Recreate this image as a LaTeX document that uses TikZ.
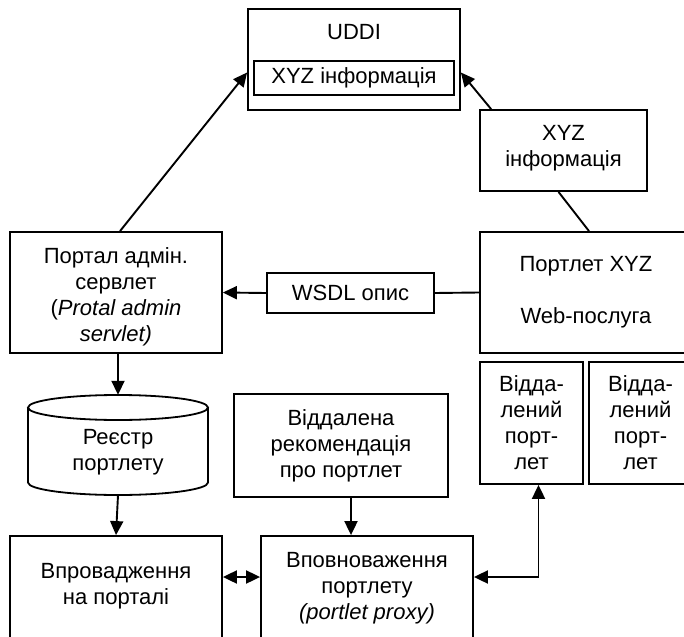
\documentclass[tikz,border=0pt]{standalone}
\usepackage{fontspec}
\setmainfont{Liberation Sans}
\usetikzlibrary{arrows.meta}
\begin{document}
\begin{tikzpicture}[x=1pt,y=-1pt,
  box/.style={draw, line width=1.8pt, align=center, inner sep=0pt, font=\fontsize{22}{26}\selectfont},
  txt/.style={align=center, inner sep=0pt, font=\fontsize{22}{26}\selectfont},
  conn/.style={line width=1.9pt},
  arr/.style={line width=1.9pt, -{Triangle[length=14pt,width=13pt]}},
  darr/.style={line width=1.9pt, {Triangle[length=14pt,width=13pt]}-{Triangle[length=14pt,width=13pt]}}]
\useasboundingbox (0,0) rectangle (684,636);
\clip (0,0) rectangle (684,636);
% UDDI
\node[box, minimum width=212pt, minimum height=101pt] (uddi) at (354,59.5) {};
\node[txt] (uddit) at (354,32) {UDDI};
\node[box, minimum width=200pt, minimum height=34pt] (inner) at (354,78) {XYZ інформація};
% XYZ info
\node[box, minimum width=167pt, minimum height=81pt] (xyzinfo) at (563.5,150.5) {};
\node[txt] (xyzinfot) at (563.5,148) {XYZ\\інформація};
% Portal admin servlet
\node[box, minimum width=212pt, minimum height=121pt] (admin) at (116,292.5) {};
\node[txt] (admint) at (116,297) {Портал адмін.\\сервлет\\(\textit{Protal admin}\\\textit{servlet)}};
% Portlet XYZ
\node[box, minimum width=212pt, minimum height=121pt] (portlet) at (586,292.5) {Портлет XYZ\\[26pt]Web-послуга};
% WSDL
\node[box, minimum width=167pt, minimum height=40pt] (wsdl) at (350.5,293) {WSDL опис};
% Cylinder
\node[minimum width=180pt, minimum height=100pt, inner sep=0pt] (cyl) at (118,445) {};
\draw[line width=1.8pt] (118,407.5) ellipse [x radius=90pt, y radius=12.5pt];
\draw[line width=1.8pt] (28,407.5) -- (28,482.5) arc[start angle=180, end angle=360, x radius=90pt, y radius=12.5pt] -- (208,407.5);
\node[txt] (cylt) at (118,452) {Реєстр\\портлету};
% Remote recommendation
\node[box, minimum width=214pt, minimum height=103pt] (rec) at (341,445.5) {Віддалена\\рекомендація\\про портлет};
% Remote portlets
\node[box, minimum width=103pt, minimum height=122pt] (rem1) at (531.5,423) {Відда-\\лений\\порт-\\лет};
\node[box, minimum width=103pt, minimum height=122pt] (rem2) at (640.5,423) {Відда-\\лений\\порт-\\лет};
% Bottom boxes
\node[box, minimum width=212pt, minimum height=104pt] (vprov) at (116,588) {};
\node[txt] (vprovt) at (116,586) {Впровадження\\на порталі};
\node[box, minimum width=212pt, minimum height=104pt] (vpov) at (367,588) {Вповноваження\\портлету\\\textit{(portlet proxy)}};
% Connectors
\draw[arr] ([xshift=4pt]admin.north) -- ([yshift=-13pt]uddi.west);
\draw[arr] ([xshift=12pt]xyzinfo.north west) -- ([yshift=-13pt]uddi.east);
\draw[conn] ([xshift=-5pt]xyzinfo.south) -- ([xshift=3pt]portlet.north);
\draw[conn] (portlet.west) -- (wsdl.east);
\draw[arr] (wsdl.west) -- (admin.west -| admin.east);
\draw[arr] ([xshift=2pt]admin.south) -- (cyl.north);
\draw[arr] (cyl.south) -- (vprov.north);
\draw[arr] ([xshift=10pt]rec.south) -- ([xshift=-16pt]vpov.north);
\draw[darr] ([yshift=11pt]vprov.east) -- ([yshift=11pt]vpov.west);
\draw[darr] ([yshift=11pt]vpov.east) -| ([xshift=7pt]rem1.south);
\end{tikzpicture}
\end{document}
